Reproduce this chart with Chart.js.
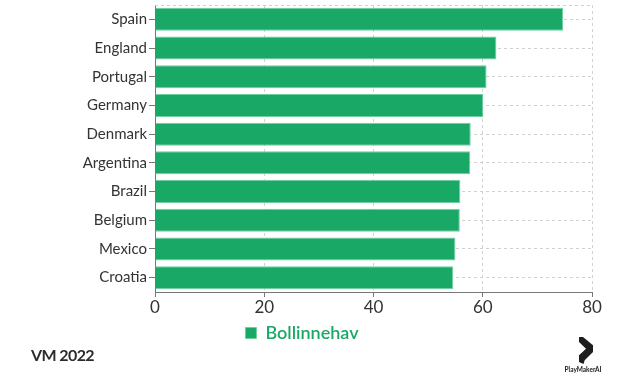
<!DOCTYPE html>
<html>
<head>
<meta charset="utf-8">
<script src="https://cdn.jsdelivr.net/npm/chart.js@4"></script>
<style>
  html, body { margin: 0; padding: 0; background: #fff; }
  #wrap { position: relative; width: 620px; height: 379px; overflow: hidden; }
  #title { position: absolute; left: 31px; top: 345px; font: 700 16px Lato, sans-serif; color: #2b2b2b; letter-spacing: -0.6px; }
  #logo { position: absolute; left: 579px; top: 337px; }
  #logotext { position: absolute; left: 560px; top: 366px; width: 46px; text-align: center; font: 700 6.5px Lato, sans-serif; color: #222; }
</style>
</head>
<body>
<div id="wrap">
  <canvas id="c" width="620" height="379"></canvas>
  <div id="title">VM 2022</div>
  <svg id="logo" width="15" height="28" viewBox="0 0 15 28">
    <polygon points="0,0 4,0 14,8.3 14,15 5.7,23.3 4.5,27 0,25 0,18.3 7,11.7 0,5" fill="#1e1e1e"/>
  </svg>
  <div id="logotext">PlayMakerAI</div>
</div>
<script>
const categories = ["Spain", "England", "Portugal", "Germany", "Denmark", "Argentina", "Brazil", "Belgium", "Mexico", "Croatia"];
const seriesName = "Bollinnehav";
const possession = [74.7, 62.5, 60.7, 60.1, 57.8, 57.7, 55.9, 55.8, 55.0, 54.6];
const xTicks = [0, 20, 40, 60, 80];

const topBorder = {
  id: 'topBorder',
  beforeDatasetsDraw(chart) {
    const {ctx, chartArea} = chart;
    ctx.save();
    ctx.strokeStyle = '#cfcfcf';
    ctx.lineWidth = 1;
    ctx.setLineDash([3, 3]);
    ctx.beginPath();
    ctx.moveTo(chartArea.left, chartArea.top + 0.5);
    ctx.lineTo(chartArea.right, chartArea.top + 0.5);
    ctx.stroke();
    ctx.restore();
  }
};

const legendShift = {
  id: 'legendShift',
  afterLayout(chart) {
    const lg = chart.legend;
    if (lg) { lg.left += 6; lg.right += 6; lg.top += 2; lg.bottom += 2; }
  }
};

new Chart(document.getElementById('c'), {
  type: 'bar',
  data: {
    labels: categories,
    datasets: [{
      label: seriesName,
      data: possession,
      backgroundColor: '#1aa866',
      borderColor: '#6fd09f',
      borderWidth: 1,
      categoryPercentage: 0.8,
      barPercentage: 1.0
    }]
  },
  options: {
    indexAxis: 'y',
    responsive: false,
    animation: false,
    devicePixelRatio: 1,
    layout: { padding: { top: 5, right: 28, bottom: 29, left: 0 } },
    font: { family: 'Lato' },
    scales: {
      x: {
        min: 0, max: 80,
        afterBuildTicks(scale) { scale.ticks = xTicks.map(v => ({ value: v })); },
        afterFit(scale) { scale.height = 24; },
        grid: { color: '#d2d2d2', tickLength: 5, tickColor: '#777', tickBorderDash: [], drawTicks: true },
        border: { display: true, color: '#777', width: 1, dash: [3, 3] },
        ticks: { color: '#333', font: { family: 'Lato', size: 17 }, padding: 0 }
      },
      y: {
        afterFit(scale) { scale.width = 155; scale.paddingTop = 0; scale.paddingBottom = 0; },
        grid: { color: '#d2d2d2', offset: false, tickLength: 6, tickColor: '#777', tickBorderDash: [] },
        border: { display: true, color: '#777', width: 1, dash: [3, 3] },
        ticks: { color: '#333', font: { family: 'Lato', size: 15 }, padding: 2 }
      }
    },
    plugins: {
      legend: {
        position: 'bottom',
        labels: {
          boxWidth: 11, boxHeight: 11, padding: 6,
          color: '#1aa866',
          font: { family: 'Lato', size: 18, weight: '600' }
        }
      },
      tooltip: { enabled: false }
    }
  },
  plugins: [topBorder, legendShift]
});
</script>
</body>
</html>
